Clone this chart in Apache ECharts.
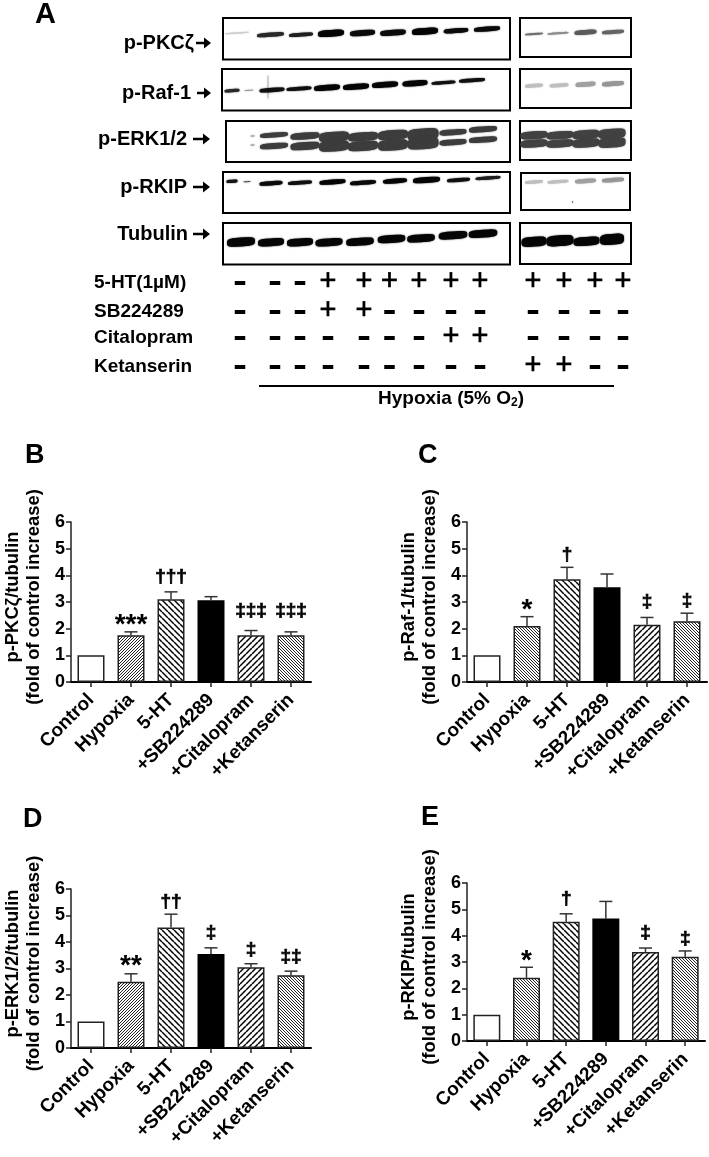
<!DOCTYPE html>
<html><head><meta charset="utf-8">
<style>html,body{margin:0;padding:0;background:#fff}#c{width:709px;height:1157px}</style>
<script src="https://cdn.jsdelivr.net/npm/echarts@6/dist/echarts.min.js"></script>
</head><body><div id="c"></div>
<script>
// ---------- bar chart data ----------
const categories = ['Control','Hypoxia','5-HT','+SB224289','+Citalopram','+Ketanserin'];
const valuesB = [1,1.75,3.1,3.07,1.75,1.75];
const errTopB = [1,1.88,3.38,3.2,1.93,1.88];
const sigB = ['','***','†††','','‡‡‡','‡‡‡'];
const sigLevelB = [0,2.32,3.94,0,2.66,2.66];
const valuesC = [1,2.1,3.85,3.55,2.15,2.28];
const errTopC = [1,2.45,4.3,4.05,2.42,2.58];
const sigC = ['','*','†','','‡','‡'];
const sigLevelC = [0,2.86,4.76,0,3.0,3.04];
const valuesD = [1,2.5,4.55,3.55,3.05,2.75];
const errTopD = [1,2.8,5.05,3.78,3.18,2.9];
const sigD = ['','**','††','‡','‡','‡‡'];
const sigLevelD = [0,3.26,5.52,4.33,3.7,3.44];
const valuesE = [1,2.4,4.53,4.65,3.38,3.2];
const errTopE = [1,2.8,4.83,5.3,3.53,3.42];
const sigE = ['','*','†','','‡','‡'];
const sigLevelE = [0,3.2,5.39,0,4.1,3.9];
const yTicks = [0,1,2,3,4,5,6];

// ---------- western blot readings: [lane position, migration position, band width, band thickness, grey] ----------
const blotPKC = [[14,15,24,1.5,205],[47.5,16.7,27,3.5,40],[78,16.7,24,3,30],[108,15.3,26,6,5],[139.5,15,25,5,10],[170,14.7,25.5,5,10],[202,13.3,26,6,5],[233,12.7,24.5,4,10],[264,11,26,4,10]];
const blotPKCside = [[14,16,18,2,110],[38,15.3,21,2,140],[65.5,14.3,22,4,90],[93,14,22,3,100]];
const blotRaf = [[10,21.7,15,2.5,40],[27,21.3,9,1,150],[46,18,0.8,23,170],[50,21,25,3.5,15],[77,19.7,25,3,15],[105,18.7,26,5,5],[134,17.7,26,5,5],[163,15.7,26,5,5],[193,14.3,25,5,5],[221.5,13.7,24,2.5,15],[250,11.3,26,3,15]];
const blotRafSide = [[14,16.7,18,3,190],[39,16.3,19,3,190],[65.5,15.3,20,4,160],[93,14.7,22,4,150]];
const blotERK = [[26.5,15,4,1.5,170],[26.5,24,4,1.5,170],
 [48,14,28,4,60],[79,15,29,6,60],[108,15.7,30,9,60],[137,15.7,30,8,60],[167,14,30,9,60],[197,13.3,31,11,60],[227,11.3,27,5,60],[257,8.3,28,5,60],
 [48,25,28,5,60],[79,25,29,7,60],[108,25,30,10,60],[137,25,30,9,60],[167,24,30,10,60],[197,22.3,31,11,60],[227,21.3,27,5,60],[257,18.7,28,5,60]];
const blotERKside = [[14,14.2,27,7,65],[40,14.2,27,7,65],[66,13.5,27,8,65],[92,12.7,27,9,65],[14,22.5,27,7,65],[40,22.5,27,7,65],[66,22,27,8,65],[92,21.7,27,9,65]];
const blotRKIP = [[9,9.3,11,2.5,20],[24,9.7,7,1,80],[48,11.3,23,3.5,10],[77,10.7,24,3,15],[109.5,10,26,4,5],[140,10.7,26,3.5,10],[172,9,24,4,5],[203.5,8,27,5,5],[235.5,8,23,3,15],[265,6,25,2.5,30]];
const blotRKIPside = [[13,9,18,2.5,190],[37,8.7,21,2.5,190],[51.6,29,1,1.5,90],[64.5,8,21,3.5,160],[92,7,22,3.5,150]];
const blotTub = [[18,19,28,8,5],[48,19.3,26,7,5],[77,19.3,26,7,5],[106,19.3,27,7,5],[137,18.7,27.5,7,5],[168.5,16,27.5,7,5],[198,15.3,27.5,7,5],[230,12.3,28.5,7,5],[260,10.7,28.5,7,5]];
const blotTubSide = [[14,18.7,25,9,5],[40,17.7,27,10,5],[66.5,18.3,26,8,5],[92,16.3,24,10,5]];

// ---------- treatment table ----------
const treatmentNames = ['5-HT(1µM)','SB224289','Citalopram','Ketanserin'];
const treatment5HT  = ['-','-','-','+','+','+','+','+','+','+','+','+','+'];
const treatmentSB   = ['-','-','-','+','+','-','-','-','-','-','-','-','-'];
const treatmentCit  = ['-','-','-','-','-','-','-','+','+','-','-','-','-'];
const treatmentKet  = ['-','-','-','-','-','-','-','-','-','+','+','-','-'];
const blotNames = ['p-PKCζ','p-Raf-1','p-ERK1/2','p-RKIP','Tubulin'];

// ---------- layout ----------
const FONT = '"Liberation Sans", Arial, sans-serif';
const laneX = [240,275,300,328,364,389.5,419,451,480,533,564,595,623];
const rowY = [283,312,338,367];
const labelRight = [194,191,187,187,188];
const labelY = [43,93,139,187,234];
const arrowX = [[196,211],[197,211],[193,210],[193,210],[193,210]];
const blotLayout = [
 {d:blotPKC,x:223,y:18,w:287,h:41.5},{d:blotPKCside,x:520,y:18,w:111,h:39},
 {d:blotRaf,x:222,y:69,w:288,h:41.5},{d:blotRafSide,x:520,y:69,w:111,h:39},
 {d:blotERK,x:226,y:121,w:284,h:41},{d:blotERKside,x:520,y:121,w:111,h:39},
 {d:blotRKIP,x:223,y:172,w:287,h:41},{d:blotRKIPside,x:521,y:173,w:109,h:37},
 {d:blotTub,x:223,y:223,w:287,h:41.5},{d:blotTubSide,x:520,y:223,w:111,h:41}
];
const panelLayout = [
 {k:'B',left:71,top:522,w:240,h:160,v:valuesB,e:errTopB,s:sigB,l:sigLevelB,n:'p-PKCζ/tubulin',p:['w','d/','h\\','k','h/','d\\']},
 {k:'C',left:467,top:522,w:240,h:160,v:valuesC,e:errTopC,s:sigC,l:sigLevelC,n:'p-Raf-1/tubulin',p:['w','d\\','h\\','k','h/','d\\']},
 {k:'D',left:71,top:889,w:240,h:159,v:valuesD,e:errTopD,s:sigD,l:sigLevelD,n:'p-ERK1/2/tubulin',p:['w','d/','h\\','k','h/','d\\']},
 {k:'E',left:467,top:883,w:238,h:158,v:valuesE,e:errTopE,s:sigE,l:sigLevelE,n:'p-RKIP/tubulin',p:['w','d\\','h\\','k','h/','d\\']}
];

function tile(period, lw, dir, ink){
  const c=document.createElement('canvas');c.width=period;c.height=period;
  const g=c.getContext('2d');g.fillStyle='#fff';g.fillRect(0,0,period,period);
  g.strokeStyle=ink;g.lineWidth=lw;
  for(let o=-period;o<=period;o+=period){
    g.beginPath();
    if(dir==='/'){g.moveTo(o,period);g.lineTo(o+period,0);}
    else{g.moveTo(o,0);g.lineTo(o+period,period);}
    g.stroke();
  }
  return {image:c,repeat:'repeat'};
}
const fills={
 'w':'#fff','k':'#000',
 'd/':tile(3,1,'/','#222'),'d\\':tile(3,1,'\\','#222'),
 'h/':tile(6,1.5,'/','#000'),'h\\':tile(6,1.5,'\\','#000')
};

const grid=[],xAxis=[],yAxis=[],series=[];

// blots
function renderBand(params,api){
  const c=api.coord([api.value(0),api.value(1)]);
  const w=api.value(2),h=api.value(3)+(api.value(3)>2?0.8:0),g=api.value(4);
  const pts=[];
  for(let a=0;a<=36;a++){
    const t=a/36*Math.PI*2,ct=Math.cos(t),st=Math.sin(t);
    const px=(w/2)*Math.sign(ct)*Math.pow(Math.abs(ct),0.5);
    const py=(h/2)*Math.sign(st)*Math.pow(Math.abs(st),0.6);
    pts.push([c[0]+px,c[1]+py-px*0.07]);
  }
  const col='rgb('+g+','+g+','+g+')';
  return {type:'polygon',shape:{points:pts},style:{fill:col,shadowBlur:1.5,shadowColor:col}};
}
blotLayout.forEach(b=>{
  const i=grid.length;
  grid.push({left:b.x,top:b.y,width:b.w,height:b.h,show:true,borderColor:'#000',borderWidth:2,backgroundColor:'#fff',containLabel:false,outerBoundsMode:'none'});
  xAxis.push({type:'value',gridIndex:i,min:0,max:b.w,show:false});
  yAxis.push({type:'value',gridIndex:i,min:0,max:b.h,inverse:true,show:false});
  series.push({type:'custom',xAxisIndex:i,yAxisIndex:i,coordinateSystem:'cartesian2d',silent:true,clip:true,
    data:b.d,renderItem:renderBand,animation:false,encode:{x:0,y:1}});
});

// bar panels
panelLayout.forEach(p=>{
  const i=grid.length;
  grid.push({left:p.left,top:p.top,width:p.w,height:p.h,containLabel:false,outerBoundsMode:'none'});
  xAxis.push({type:'category',gridIndex:i,data:categories,
    axisLine:{show:true,onZero:false,lineStyle:{color:'#000',width:2}},
    axisTick:{show:true,alignWithLabel:true,length:5,lineStyle:{color:'#222',width:1.5}},
    axisLabel:{show:true,interval:0,rotate:45,margin:15,fontFamily:FONT,fontWeight:'bold',fontSize:19,color:'#000'}});
  yAxis.push({type:'value',gridIndex:i,min:yTicks[0],max:yTicks[yTicks.length-1],interval:1,
    splitLine:{show:false},
    axisLine:{show:true,lineStyle:{color:'#222',width:1.5}},
    axisTick:{show:true,length:5,lineStyle:{color:'#222',width:1.5}},
    axisLabel:{show:true,margin:6,fontFamily:FONT,fontWeight:'bold',fontSize:18,color:'#000'},
    name:p.n+'\n(fold of control increase)',nameLocation:'middle',nameGap:27,nameRotate:90,
    nameTextStyle:{fontFamily:FONT,fontWeight:'bold',fontSize:18.4,color:'#000',lineHeight:21,padding:[0,0,0,10]}});
  series.push({type:'custom',xAxisIndex:i,yAxisIndex:i,z:1,silent:true,animation:false,
    data:p.v.map((v,j)=>[j,v,p.e[j]]),encode:{x:0,y:1},
    renderItem:(params,api)=>{
      const a=api.coord([api.value(0),api.value(1)]),b=api.coord([api.value(0),api.value(2)]);
      if(api.value(2)<=api.value(1))return null;
      const st={stroke:'#333',lineWidth:1.5,fill:'none'};
      return {type:'group',children:[
        {type:'line',shape:{x1:a[0],y1:a[1],x2:b[0],y2:b[1]},style:st},
        {type:'line',shape:{x1:b[0]-6.5,y1:b[1],x2:b[0]+6.5,y2:b[1]},style:st}]};
    }});
  series.push({type:'bar',xAxisIndex:i,yAxisIndex:i,z:2,barWidth:27,silent:true,animation:false,
    data:p.v.map((v,j)=>({value:v,itemStyle:{color:fills[p.p[j]],borderColor:p.p[j]==='k'?'#000':'#222',borderWidth:1.5}}))});
  series.push({type:'custom',xAxisIndex:i,yAxisIndex:i,z:3,silent:true,animation:false,
    data:p.l.map((v,j)=>[j,v]),encode:{x:0,y:1},
    renderItem:(params,api)=>{
      const t=p.s[params.dataIndex];
      if(!t)return null;
      const c=api.coord([api.value(0),api.value(1)]);
      const star=t.includes('*');
      return {type:'text',x:c[0],y:c[1]+(star?5:0),style:{text:t,fontFamily:FONT,fontWeight:'bold',fontSize:star?28:19,fill:'#000',stroke:'#000',lineWidth:star?0:0.7,textAlign:'center',textVerticalAlign:'middle'}};
    }});
});

// ---------- annotation graphics ----------
const graphic=[];
const txt=(t,x,y,size,align,weight,stroke)=>({type:'text',x,y,style:{text:t,fontFamily:FONT,fontWeight:weight||'bold',fontSize:size,fill:'#000',stroke:stroke?'#000':'none',lineWidth:stroke||0,textAlign:align||'left',textVerticalAlign:'middle'}});
blotNames.forEach((n,i)=>{
  graphic.push(txt(n,labelRight[i],labelY[i],20,'right'));
  const [a,b]=arrowX[i],y=labelY[i];
  graphic.push({type:'polygon',shape:{points:[[a,y-1.3],[b-7,y-1.3],[b-7,y-5.5],[b,y],[b-7,y+5.5],[b-7,y+1.3],[a,y+1.3]]},style:{fill:'#000'}});
});
graphic.push(txt('A',35,15,29));
graphic.push(txt('B',25,456,27));
graphic.push(txt('C',418,456,27));
graphic.push(txt('D',23,820,27));
graphic.push(txt('E',421,818,27));
treatmentNames.forEach((n,i)=>graphic.push(txt(n,94,rowY[i],19)));
[treatment5HT,treatmentSB,treatmentCit,treatmentKet].forEach((row,r)=>{
  row.forEach((s,i)=>{
    if(s==='+')graphic.push(txt('+',laneX[i],rowY[r]-1,29,'center','normal',0.7));
    else graphic.push({type:'rect',shape:{x:laneX[i]-5.25,y:rowY[r]-2,width:10.5,height:4},style:{fill:'#000'}});
  });
});
graphic.push({type:'line',shape:{x1:259,y1:386,x2:614,y2:386},style:{stroke:'#000',lineWidth:2}});
graphic.push({type:'text',x:451,y:399,style:{
  text:'{a|Hypoxia (5% O}{b|2}{a|)}',textAlign:'center',textVerticalAlign:'middle',
  rich:{a:{fontFamily:FONT,fontWeight:'bold',fontSize:19,fill:'#000'},b:{fontFamily:FONT,fontWeight:'bold',fontSize:12,fill:'#000',verticalAlign:'bottom'}}}});

const chart=echarts.init(document.getElementById('c'),null,{renderer:'canvas'});
chart.setOption({animation:false,backgroundColor:'#fff',grid,xAxis,yAxis,series,graphic:{elements:graphic}});
</script></body></html>
